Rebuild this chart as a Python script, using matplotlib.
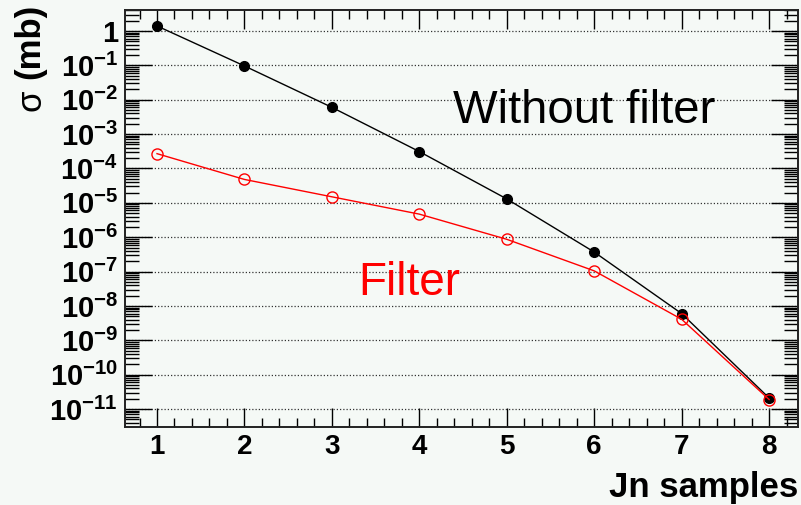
import numpy as np
import matplotlib
matplotlib.use('Agg')
import matplotlib.pyplot as plt
from matplotlib.ticker import LogLocator, FuncFormatter, MultipleLocator, NullFormatter

# cross sections
jn_samples = [1, 2, 3, 4, 5, 6, 7, 8]
sigma_nofilter = [1.4, 9.6e-2, 6.0e-3, 3.1e-4, 1.3e-5, 3.7e-7, 6.0e-9, 2.1e-11]
sigma_filter = [2.7e-4, 4.8e-5, 1.5e-5, 4.7e-6, 8.7e-7, 1.05e-7, 4.1e-9, 1.9e-11]

bg = '#f5f9f6'
plt.rcParams['font.family'] = ['Liberation Sans', 'DejaVu Sans']
plt.rcParams['font.weight'] = 'bold'
plt.rcParams['mathtext.fontset'] = 'custom'
plt.rcParams['mathtext.rm'] = 'Liberation Sans:bold'
plt.rcParams['mathtext.bf'] = 'Liberation Sans:bold'
plt.rcParams['ytick.labelsize'] = 21
plt.rcParams['xtick.labelsize'] = 20

fig = plt.figure(figsize=(8.01, 5.05), dpi=100, facecolor=bg)
ax = fig.add_axes([125/801, 1-427/505, 673/801, 417/505], facecolor=bg)

ax.plot(jn_samples, sigma_nofilter, color='black', lw=1, marker='o', ms=7,
        mfc='black', mec='black', zorder=3)
ax.plot(jn_samples, sigma_filter, color='red', lw=1, marker='o', ms=8,
        mfc='none', mec='red', mew=1, zorder=3)

ax.set_yscale('log')
ax.set_xlim(0.634, 8.33)
ax.set_ylim(10**-11.52, 10**0.61)

ax.yaxis.set_major_locator(LogLocator(base=10, numticks=100))
ax.yaxis.set_minor_locator(LogLocator(base=10, subs=np.arange(2, 10), numticks=100))
ax.yaxis.set_minor_formatter(NullFormatter())


def ylab(v, pos):
    e = int(round(np.log10(v)))
    if e == 0:
        return '1'
    return r'$\mathbf{10^{%d}}$' % e


ax.yaxis.set_major_formatter(FuncFormatter(ylab))
ax.xaxis.set_major_locator(MultipleLocator(1))
ax.xaxis.set_minor_locator(MultipleLocator(0.2))

ax.tick_params(axis='y', which='major', direction='in', left=True, right=True,
               length=19.5, width=1, pad=5)
ax.tick_params(axis='y', which='minor', direction='in', left=True, right=True,
               length=10, width=1)
ax.tick_params(axis='x', which='major', direction='in', bottom=True, top=True,
               length=13.5, width=1, pad=5)
ax.tick_params(axis='x', which='minor', direction='in', bottom=True, top=True,
               length=6.5, width=1)

ax.grid(True, axis='y', which='major', color='#333333', lw=0.9, ls=(0, (1, 1.6)))
for s in ax.spines.values():
    s.set_linewidth(1.4)
    s.set_color('#222222')

ax.text(0.487, 0.729, 'Without filter', transform=ax.transAxes, fontsize=34,
        fontweight='normal', color='black', ha='left', va='baseline')
ax.text(0.346, 0.3165, 'Filter', transform=ax.transAxes, fontsize=33,
        fontweight='normal', color='red', ha='left', va='baseline')

fig.text(30/801, 1-4/505, '(mb)', rotation=90, fontsize=25, fontweight='bold',
         ha='center', va='top')
fig.text(31/801, 1-90/505, 'σ', rotation=90, fontsize=25, fontweight='normal',
         ha='center', va='top')
fig.text(798/801, 1-497/505, 'Jn samples', fontsize=25, fontweight='bold',
         ha='right', va='baseline')

fig.savefig('out.png', dpi=100, facecolor=bg)
